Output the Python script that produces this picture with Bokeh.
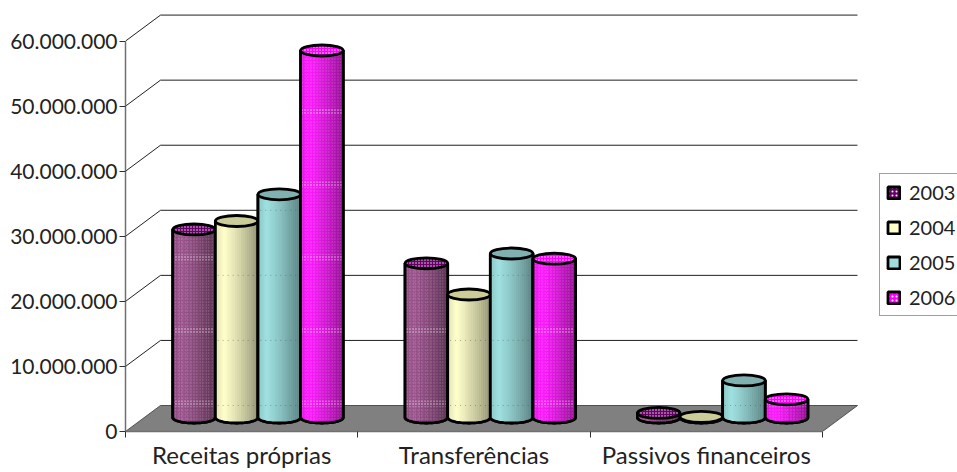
import numpy as np
from bokeh.plotting import figure
from bokeh.models import Range1d, FixedTicker, Legend, LegendItem
from bokeh.embed import file_html
from bokeh.resources import INLINE

categories = ["Receitas próprias", "Transferências", "Passivos financeiros"]
years = ["2003", "2004", "2005", "2006"]
v2003 = [28.9e6, 23.7e6, 0.7e6]
v2004 = [30.2e6, 18.9e6, 0.1e6]
v2005 = [34.3e6, 25.2e6, 5.7e6]
v2006 = [56.4e6, 24.4e6, 2.8e6]
series = [v2003, v2004, v2005, v2006]
y_ticks = [0, 10e6, 20e6, 30e6, 40e6, 50e6, 60e6]
y_labels = ["0", "10.000.000", "20.000.000", "30.000.000", "40.000.000", "50.000.000", "60.000.000"]

base_rgb = [(160, 90, 145), (255, 255, 204), (160, 225, 225), (255, 30, 255)]
top_fill = ["#660066", "#CCCC99", "#80B0B0", "#FF00FF"]
legend_fill = ["#660066", "#FFFFCC", "#A0DCDC", "#FF00FF"]
hatched = [True, False, False, True]

PX_X = 232.33
PX_Y = 6.507e-6
FONT = "Lato"
DX, DY = 35 / PX_X, 26 / PX_Y
BASE = 14 / PX_Y
CW = 42.6 / PX_X
EH = 5.5 / PX_Y
BAND_PERIOD = 73 / PX_Y
BAND_START = 25 / PX_Y
BAND_H = 6 / PX_Y

p = figure(width=957, height=472, output_backend="svg", toolbar_location=None,
           min_border_left=125, min_border_bottom=41, min_border_top=0, min_border_right=0,
           x_range=Range1d(0, 832 / PX_X), y_range=Range1d(0, 431 / 6.507e-6), outline_line_color=None)
p.grid.grid_line_color = None

# floor and back-wall grid lines
p.patch([0, DX, 3 + DX, 3], [0, DY, DY, 0], fill_color="#808080", line_color="#505050", line_width=1)
grid = [v for v in y_ticks if v > 0]
p.multi_line([[0, DX, 3 + DX] for _ in grid], [[v, v + DY, v + DY] for v in grid],
             line_color="#202020", line_width=1)


def shade(rgb, t):
    f = 1 - 0.12 * (0.2 - t) / 0.2 if t < 0.2 else 1 - 0.42 * ((t - 0.2) / 0.8) ** 1.2
    return "#%02x%02x%02x" % tuple(int(c * f) for c in rgb)


N = 22
renderers = []
for i, vals in enumerate(series):
    xs, ys, cols, ox, oy, cx, cy = [], [], [], [], [], [], []
    gx, gy, bl, br, bb, bt = [], [], [], [], [], []
    for c, v in enumerate(vals):
        xc = c + 0.295 + i * 0.1835
        edges = np.linspace(-1, 1, N + 1)
        for a, b in zip(edges[:-1], edges[1:]):
            ax, bx = xc + a * CW / 2, xc + b * CW / 2
            ay, by = EH * np.sqrt(1 - a * a), EH * np.sqrt(1 - b * b)
            xs.append([ax, bx, bx, ax])
            ys.append([BASE - ay, BASE - by, BASE + v, BASE + v])
            cols.append(shade(base_rgb[i], (a + b + 2) / 4))
        th = np.linspace(np.pi, 2 * np.pi, 40)
        ox.append(list(xc + np.cos(th) * CW / 2) + [xc + CW / 2, xc - CW / 2])
        oy.append(list(BASE + np.sin(th) * EH) + [BASE + v, BASE + v])
        cx.append(xc)
        cy.append(BASE + v)
        # faint traces of the back-wall grid and of the texture seam
        for g in [0] + grid:
            if g + DY < BASE + v:
                gx.append([xc - CW / 2 + 0.01, xc + CW / 2 - 0.01])
                gy.append([g + DY, g + DY])
        b0 = BAND_START
        while b0 + BAND_H < BASE + v:
            bl.append(xc - CW / 2)
            br.append(xc + CW / 2)
            bb.append(b0)
            bt.append(b0 + BAND_H)
            b0 += BAND_PERIOD
    kw = dict(hatch_pattern="dot", hatch_color="white", hatch_alpha=0.3, hatch_scale=3) if hatched[i] else {}
    sil = p.patches(ox, oy, fill_color=legend_fill[i], line_color="black", line_width=2.8)
    if hatched[i]:
        sil.glyph.hatch_pattern = "dot"
        sil.glyph.hatch_color = "white"
        sil.glyph.hatch_scale = 4
    p.patches(xs, ys, fill_color=cols, line_color=cols, line_width=0.4, **kw)
    if hatched[i]:
        p.quad(left=bl, right=br, bottom=bb, top=bt, fill_color=None, line_color=None,
               hatch_pattern="dot", hatch_color="white", hatch_alpha=0.6, hatch_scale=3)
    else:
        p.multi_line(gx, gy, line_color="#505050", line_alpha=0.45, line_width=1, line_dash="1 4")
    p.patches(ox, oy, fill_color=None, line_color="black", line_width=2.8)
    kw2 = dict(hatch_pattern="dot", hatch_color="white", hatch_alpha=0.9, hatch_scale=3) if hatched[i] else {}
    p.ellipse(cx, cy, width=CW, height=2 * EH, fill_color=top_fill[i], line_color="black",
              line_width=2.8, **kw2)
    renderers.append(sil)

legend = Legend(items=[LegendItem(label=y, renderers=[r]) for y, r in zip(years, renderers)],
                location=(754, 115), label_text_font=FONT, label_text_font_size="20px",
                label_text_color="#222222", glyph_width=15, glyph_height=15, padding=6, spacing=11,
                margin=0, border_line_color="#404040", border_line_width=1, label_standoff=8,
                background_fill_color="white", label_height=20)
p.add_layout(legend, "center")

yax = p.yaxis[0]
yax.ticker = FixedTicker(ticks=y_ticks)
yax.major_label_overrides = {t: l for t, l in zip(y_ticks, y_labels)}
yax.bounds = (0, 60e6)
yax.axis_line_color = "#707070"
yax.axis_line_width = 1.5
yax.major_tick_in = 0
yax.major_tick_out = 6
yax.major_tick_line_color = "#303030"
yax.minor_tick_line_color = None
yax.major_label_text_font = FONT
yax.major_label_text_font_size = "21px"
yax.major_label_text_color = "#222222"
yax.major_label_standoff = 2

xax = p.xaxis[0]
centers = [0.5, 1.5, 2.5]
xax.ticker = FixedTicker(ticks=centers, minor_ticks=[0, 1, 2, 3])
xax.major_label_overrides = {c: l for c, l in zip(centers, categories)}
xax.bounds = (0, 3)
xax.axis_line_color = "#707070"
xax.axis_line_width = 1.5
xax.major_tick_line_color = None
xax.major_tick_in = 0
xax.major_tick_out = 6
xax.minor_tick_in = 0
xax.minor_tick_out = 6
xax.minor_tick_line_color = "#303030"
xax.major_label_text_font = FONT
xax.major_label_text_font_size = "24px"
xax.major_label_text_color = "#222222"
xax.major_label_standoff = 2

open("out.html", "w").write(file_html(p, INLINE))
